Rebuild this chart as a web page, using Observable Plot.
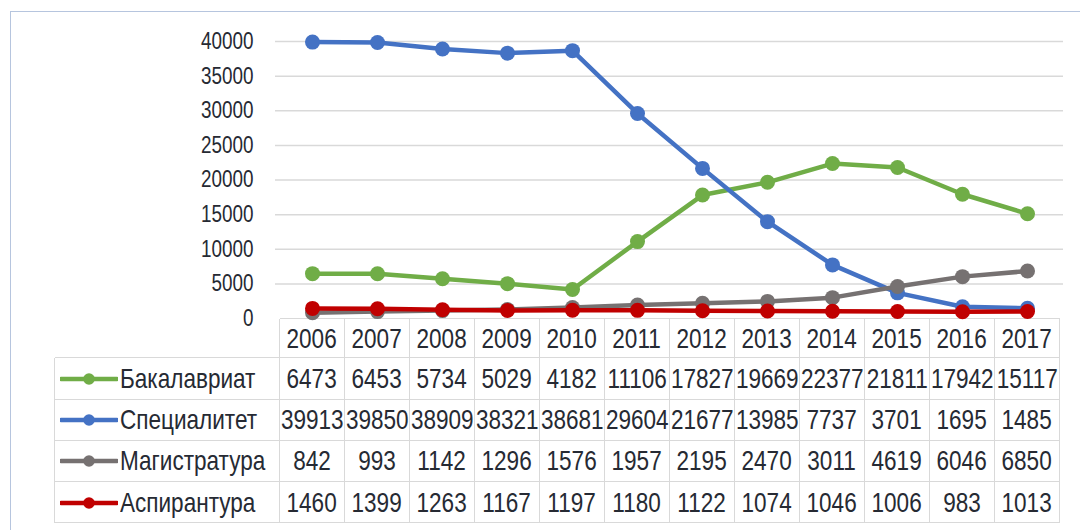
<!DOCTYPE html>
<html>
<head>
<meta charset="utf-8">
<script src="https://cdn.jsdelivr.net/npm/d3@7"></script>
<script src="https://cdn.jsdelivr.net/npm/@observablehq/plot@0.6"></script>
<style>
  html, body { margin: 0; padding: 0; background: #ffffff; }
  #wrap { position: relative; width: 1080px; height: 530px; overflow: hidden; background: #fff; }
  #frame { position: absolute; left: 10px; top: 11px; width: 1200px; height: 700px; border: 1.5px solid #b6c5de; box-sizing: border-box; }
  #chart { position: absolute; left: 0; top: 0; z-index: 3; }
  .cell { position: absolute; display: flex; align-items: center; justify-content: center; white-space: nowrap; line-height: 1; color: #262a33; }
  .lab { justify-content: flex-start; }
  .hl { position: absolute; height: 0; border-top: 1.5px solid #d9d9d9; z-index: 1; }
  .vl { position: absolute; width: 0; border-left: 1.5px solid #d9d9d9; z-index: 1; }
  .sq { display: inline-block; }
</style>
</head>
<body>
<div id="wrap">
  <div id="frame"></div>
  <div id="chart"></div>
</div>
<script>
// ---- data ----
const years = ["2006","2007","2008","2009","2010","2011","2012","2013","2014","2015","2016","2017"];
const seriesNames = ["Бакалавриат", "Специалитет", "Магистратура", "Аспирантура"];
const bakalavriat  = [6473, 6453, 5734, 5029, 4182, 11106, 17827, 19669, 22377, 21811, 17942, 15117];
const specialitet  = [39913, 39850, 38909, 38321, 38681, 29604, 21677, 13985, 7737, 3701, 1695, 1485];
const magistratura = [842, 993, 1142, 1296, 1576, 1957, 2195, 2470, 3011, 4619, 6046, 6850];
const aspirantura  = [1460, 1399, 1263, 1167, 1197, 1180, 1122, 1074, 1046, 1006, 983, 1013];
const yTicks = [0, 5000, 10000, 15000, 20000, 25000, 30000, 35000, 40000];
const seriesColors = ["#70ad47", "#4472c4", "#767171", "#c00000"];

const seriesValues = [bakalavriat, specialitet, magistratura, aspirantura];
const data = seriesNames.flatMap((s, i) => years.map((yr, j) => ({series: s, year: yr, value: seriesValues[i][j]})));

// ---- font detection ----
function hasFont(name) {
  const c = document.createElement("canvas").getContext("2d");
  const s = "Бакалавриат 0123456789 mmmWWW";
  c.font = "40px monospace";
  const a = c.measureText(s).width;
  c.font = `40px '${name}', monospace`;
  const b = c.measureText(s).width;
  return Math.abs(a - b) > 0.5;
}
const narrow = hasFont("Liberation Sans Narrow");
const FONT = narrow ? "'Liberation Sans Narrow', 'Liberation Sans', sans-serif" : "'Liberation Sans', Arial, sans-serif";
const SQUEEZE = narrow ? 1 : 0.82;
const TEXT = "#262a33";

// ---- chart ----
const marks = [
  Plot.gridY(yTicks.filter(d => d > 0), {stroke: "#d9d9d9", strokeOpacity: 1, strokeWidth: 1.5}),
  Plot.axisY(yTicks, {tickSize: 0, tickPadding: 22, tickFormat: d => String(d), fontSize: 23, fill: TEXT, label: null})
];
seriesNames.forEach((s, i) => {
  const sub = data.filter(d => d.series === s);
  marks.push(Plot.line(sub, {x: "year", y: "value", stroke: seriesColors[i], strokeWidth: 4.5, strokeLinejoin: "round", strokeLinecap: "round"}));
  marks.push(Plot.dot(sub, {x: "year", y: "value", r: 7.5, fill: seriesColors[i], stroke: "none"}));
});

const plot = Plot.plot({
  width: 1080,
  height: 330,
  marginLeft: 275,
  marginRight: 17,
  marginTop: 41,
  marginBottom: 12,
  style: {fontFamily: FONT, fontSize: "23px", color: TEXT, background: "transparent", overflow: "visible"},
  x: {type: "point", domain: years, padding: 0.5, axis: null},
  y: {domain: [0, 40000], label: null},
  marks
});
document.getElementById("chart").appendChild(plot);

if (!narrow) {
  plot.querySelectorAll("g[aria-label='y-axis tick label'] text").forEach(t => {
    const w = t.getComputedTextLength();
    t.setAttribute("textLength", (w * SQUEEZE).toFixed(2));
    t.setAttribute("lengthAdjust", "spacingAndGlyphs");
  });
}

// ---- data table below the plot (aligned to the plot's x scale) ----
const wrap = document.getElementById("wrap");
const xs = plot.scale("x");
const ys = plot.scale("y");
const centers = years.map(y => xs.apply(y));
const step = centers[1] - centers[0];
const colLeft = centers[0] - step / 2;
const colRight = centers[centers.length - 1] + step / 2;
const labelLeft = 55;
const tableTop = ys.apply(0) + 1;
const headerH = 39;
const rowH = 41.3;
const rowEdges = [tableTop, tableTop + headerH];
for (let i = 1; i <= seriesNames.length; i++) rowEdges.push(tableTop + headerH + i * rowH);
const tableBottom = rowEdges[rowEdges.length - 1];
const FS = 27.5;

function el(cls, styles, html) {
  const d = document.createElement("div");
  d.className = cls;
  Object.assign(d.style, styles);
  if (html != null) d.innerHTML = html;
  wrap.appendChild(d);
  return d;
}
function sq(text, origin) {
  return `<span class="sq" style="transform:scaleX(${SQUEEZE});transform-origin:${origin}">${text}</span>`;
}

// horizontal lines
rowEdges.forEach((y, i) => {
  const l = i === 0 ? colLeft : labelLeft;
  el("hl", {left: l + "px", top: (y - 0.75) + "px", width: (colRight - l) + "px"});
});
// vertical lines
el("vl", {left: (labelLeft - 0.75) + "px", top: rowEdges[1] + "px", height: (tableBottom - rowEdges[1]) + "px"});
for (let k = 0; k <= years.length; k++) {
  const x = colLeft + k * step;
  el("vl", {left: (x - 0.75) + "px", top: tableTop + "px", height: (tableBottom - tableTop) + "px"});
}

// header
years.forEach((yr, k) => {
  el("cell", {left: (colLeft + k * step) + "px", top: rowEdges[0] + "px", width: step + "px", height: headerH + "px",
    fontFamily: FONT, fontSize: FS + "px"}, sq(yr, "center"));
});
// rows
seriesNames.forEach((s, i) => {
  const top = rowEdges[i + 1];
  const h = rowEdges[i + 2] - top;
  const c = seriesColors[i];
  const sw = `<svg width="58" height="16" style="margin-left:5px;margin-right:2px;flex:none"><line x1="1" y1="8" x2="57" y2="8" stroke="${c}" stroke-width="4.5" stroke-linecap="round"/><circle cx="29" cy="8" r="5.8" fill="${c}"/></svg>`;
  el("cell lab", {left: labelLeft + "px", top: top + "px", width: (colLeft - labelLeft) + "px", height: h + "px",
    fontFamily: FONT, fontSize: FS + "px"}, sw + sq(s, "left center"));
  seriesValues[i].forEach((v, k) => {
    el("cell", {left: (colLeft + k * step) + "px", top: top + "px", width: step + "px", height: h + "px",
      fontFamily: FONT, fontSize: FS + "px"}, sq(String(v), "center"));
  });
});
</script>
</body>
</html>
